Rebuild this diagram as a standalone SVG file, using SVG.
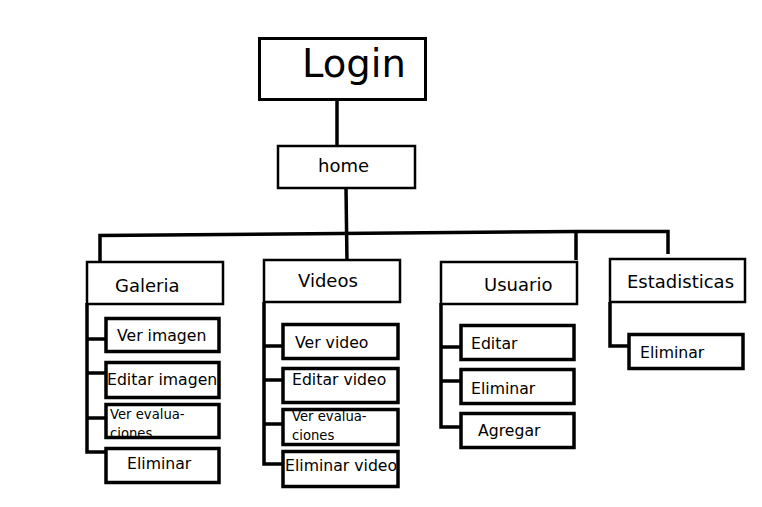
<svg xmlns="http://www.w3.org/2000/svg" width="762" height="507" viewBox="0 0 762 507">
<style>
text{font-family:"DejaVu Sans","Liberation Sans",sans-serif;fill:#000}
.main{fill:#fff;stroke:#000;stroke-width:2.5}
.sub{fill:#fff;stroke:#000;stroke-width:3.5}
.c{fill:none;stroke:#000;stroke-width:3.5}
.t18{font-size:18px}
.t16{font-size:15.7px}
.t13{font-size:13.2px}
</style>
<rect width="762" height="507" fill="#fff"/>
<g id="connectors">
<line class="c" x1="337" y1="100" x2="337" y2="146"/>
<line class="c" x1="346" y1="188" x2="347" y2="262"/>
<polyline class="c" points="100,263 100,235.5 576,231.5 668,231.5 668,254"/>
<line class="c" x1="576" y1="231.5" x2="576" y2="260"/>
<polyline class="c" points="87,303 87,452 105,452"/>
<line class="c" x1="87" y1="339" x2="105" y2="339"/>
<line class="c" x1="87" y1="373" x2="105" y2="373"/>
<line class="c" x1="87" y1="418" x2="105" y2="418"/>
<polyline class="c" points="264,302 264,464 282,464"/>
<line class="c" x1="264" y1="346" x2="282" y2="346"/>
<line class="c" x1="264" y1="380" x2="282" y2="380"/>
<line class="c" x1="264" y1="424" x2="282" y2="424"/>
<polyline class="c" points="441,303 441,427 461,427"/>
<line class="c" x1="441" y1="347" x2="461" y2="347"/>
<line class="c" x1="441" y1="381" x2="461" y2="381"/>
<polyline class="c" points="610,302 610,346 628,346"/>
</g>
<g id="login"><rect x="259.5" y="38.5" width="166" height="61" fill="#fff" stroke="#000" stroke-width="3"/><text x="302" y="77" font-size="38.5">Login</text></g>
<g id="home"><rect class="main" x="278" y="146" width="137" height="42"/><text class="t18" x="318" y="172">home</text></g>
<g id="galeria"><rect class="main" x="87" y="262" width="136" height="42"/><text class="t18" x="115" y="292">Galeria</text></g>
<g id="ver-imagen"><rect class="sub" x="106" y="318.5" width="113" height="33"/><text class="t16" x="117" y="341">Ver imagen</text></g>
<g id="editar-imagen"><rect class="sub" x="106" y="362.5" width="113" height="35"/><text class="t16" x="107" y="385">Editar imagen</text></g>
<g id="ver-evaluaciones-imagen"><rect class="sub" x="106" y="404.5" width="113" height="33"/><text class="t13" x="110" y="419">Ver evalua-</text><text class="t13" x="110" y="438">ciones</text></g>
<g id="eliminar-imagen"><rect class="sub" x="106" y="448.5" width="113" height="34"/><text class="t16" x="127" y="469">Eliminar</text></g>
<g id="videos"><rect class="main" x="264" y="260" width="136" height="42"/><text class="t18" x="298" y="287">Videos</text></g>
<g id="ver-video"><rect class="sub" x="283" y="324.5" width="115" height="34"/><text class="t16" x="295" y="348">Ver video</text></g>
<g id="editar-video"><rect class="sub" x="283" y="368.5" width="115" height="34"/><text class="t16" x="292" y="385">Editar video</text></g>
<g id="ver-evaluaciones-video"><rect class="sub" x="283" y="409.5" width="115" height="35"/><text class="t13" x="292" y="421">Ver evalua-</text><text class="t13" x="292" y="440">ciones</text></g>
<g id="eliminar-video"><rect class="sub" x="283" y="451.5" width="115" height="35"/><text class="t16" x="285" y="471">Eliminar video</text></g>
<g id="usuario"><rect class="main" x="441" y="262" width="136" height="42"/><text class="t18" x="484" y="291">Usuario</text></g>
<g id="editar-usuario"><rect class="sub" x="461" y="325.5" width="113" height="34"/><text class="t16" x="471" y="349">Editar</text></g>
<g id="eliminar-usuario"><rect class="sub" x="461" y="369.5" width="113" height="34"/><text class="t16" x="471" y="394">Eliminar</text></g>
<g id="agregar-usuario"><rect class="sub" x="461" y="413.5" width="113" height="34"/><text class="t16" x="478" y="436">Agregar</text></g>
<g id="estadisticas"><rect class="main" x="610" y="259" width="135" height="43"/><text class="t18" x="627" y="288">Estadisticas</text></g>
<g id="eliminar-estadisticas"><rect class="sub" x="629" y="334.5" width="114" height="34"/><text class="t16" x="640" y="358">Eliminar</text></g>
</svg>
